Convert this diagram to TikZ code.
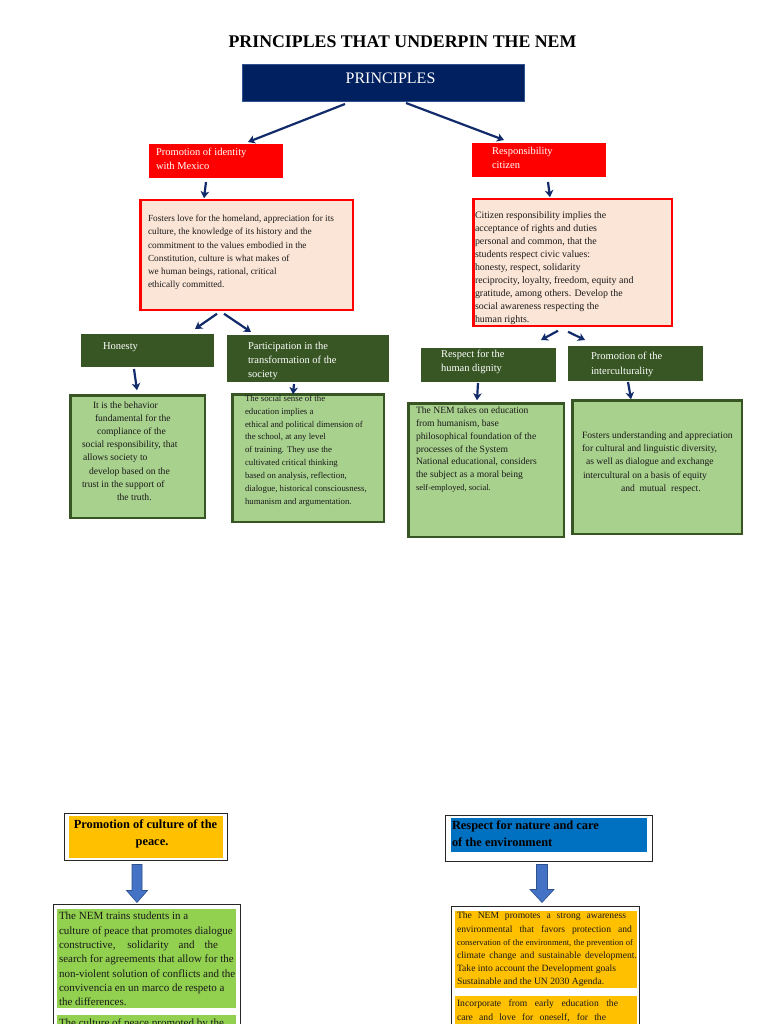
\documentclass[tikz,border=0pt]{standalone}
\usepackage{fontspec}
\setmainfont{Liberation Serif}
\usetikzlibrary{arrows.meta,calc}
\definecolor{navyfill}{HTML}{002060}
\definecolor{navyline}{HTML}{2F528F}
\definecolor{arrowblue}{HTML}{112B6B}
\definecolor{boxred}{HTML}{FF0000}
\definecolor{pinkfill}{HTML}{FBE5D6}
\definecolor{darkgreen}{HTML}{375623}
\definecolor{lightgreen}{HTML}{A9D18E}
\definecolor{limegreen}{HTML}{92D050}
\definecolor{amber}{HTML}{FFC000}
\definecolor{oceanblue}{HTML}{0070C0}
\definecolor{blockblue}{HTML}{4472C4}
\definecolor{blockedge}{HTML}{2F528F}
\definecolor{inkblack}{HTML}{1A1A1A}
\begin{document}
\begin{tikzpicture}[x=1pt,y=-1pt,
  shapebox/.style={anchor=north west,inner sep=0pt,outer sep=0pt,rectangle},
  navybox/.style={shapebox,fill=navyfill,draw=navyline,line width=0.6pt},
  redbox/.style={shapebox,fill=boxred},
  pinkbox/.style={shapebox,fill=pinkfill,draw=boxred,line width=2.5pt},
  dgbox/.style={shapebox,fill=darkgreen},
  lgbox/.style={shapebox,fill=lightgreen,draw=darkgreen,line width=2.5pt},
  outlinebox/.style={shapebox,fill=white,draw=black!85,line width=1pt},
  shadebox/.style={shapebox},
  txt/.style={anchor=north west,inner sep=0pt,outer sep=0pt,align=left,text=inkblack},
  wtxt/.style={txt,text=white},
  navylink/.style={draw=arrowblue,line width=2.2pt,-{Stealth[length=7pt,width=8.5pt,inset=2pt]}},
  blockarrow/.style={fill=blockblue,draw=blockedge,line width=0.6pt},
]
\useasboundingbox (0,0) rectangle (768,1024);
\fill[white] (0,0) rectangle (768,1024);

% ---------- title ----------
\node[txt,anchor=center,font=\fontsize{17.8pt}{20pt}\selectfont\bfseries,text=black] (title) at (402.5,42) {PRINCIPLES THAT UNDERPIN THE NEM};

% ---------- boxes ----------
\node[navybox,minimum width=282pt,minimum height=37pt] (pr) at (242,64) {};
\node[wtxt,anchor=center,font=\fontsize{16pt}{18pt}\selectfont] (prt) at (390.5,78) {PRINCIPLES};

\node[redbox,minimum width=134pt,minimum height=34pt] (id) at (149,144) {};
\node[redbox,minimum width=134pt,minimum height=34pt] (rc) at (472,143) {};
\node[wtxt,font=\fontsize{10.5pt}{14pt}\selectfont] (idt) at (156,148.5) {Promotion of identity\\with Mexico};
\node[wtxt,font=\fontsize{10.5pt}{13.5pt}\selectfont] (rct) at (492,147.5) {Responsibility\\citizen};

\node[pinkbox,minimum width=212.5pt,minimum height=109.5pt] (lp) at (140.25,200.25) {};
\node[pinkbox,minimum width=198.5pt,minimum height=126.5pt] (rp) at (473.25,199.25) {};
\node[txt,font=\fontsize{9.3pt}{13.2pt}\selectfont] (lpt) at (148,215.2) {Fosters love for the homeland, appreciation for its\\culture, the knowledge of its history and the\\commitment to the values embodied in the\\Constitution, culture is what makes of\\we human beings, rational, critical\\ethically committed.};
\node[txt,font=\fontsize{9.9pt}{13pt}\selectfont] (rpt) at (475,211.5) {Citizen responsibility implies the\\acceptance of rights and duties\\personal and common, that the\\students respect civic values:\\honesty, respect, solidarity\\reciprocity, loyalty, freedom, equity and\\gratitude, among others. Develop the\\social awareness respecting the\\human rights.};

\node[dgbox,minimum width=133pt,minimum height=33pt] (hon) at (81,334) {};
\node[dgbox,minimum width=162pt,minimum height=47pt] (par) at (227,335) {};
\node[dgbox,minimum width=135pt,minimum height=34pt] (res) at (421,348) {};
\node[dgbox,minimum width=135pt,minimum height=35pt] (int) at (568,346) {};
\node[wtxt,font=\fontsize{10.5pt}{14pt}\selectfont] (hont) at (103,342.3) {Honesty};
\node[wtxt,font=\fontsize{10.5pt}{14pt}\selectfont] (part) at (248,342.3) {Participation in the\\transformation of the\\society};
\node[wtxt,font=\fontsize{10.5pt}{14pt}\selectfont] (rest) at (441,350.3) {Respect for the\\human dignity};
\node[wtxt,font=\fontsize{10.5pt}{15pt}\selectfont] (intt) at (591,352.3) {Promotion of the\\interculturality};

\node[lgbox,minimum width=134.5pt,minimum height=122.5pt] (honb) at (70.25,395.25) {};
\node[lgbox,minimum width=151.5pt,minimum height=127.5pt] (parb) at (232.25,394.25) {};
\node[lgbox,minimum width=155.5pt,minimum height=133.5pt] (resb) at (408.25,403.25) {};
\node[lgbox,minimum width=169.5pt,minimum height=133.5pt] (intb) at (572.25,400.25) {};

\node[txt,font=\fontsize{9.6pt}{13.14pt}\selectfont] (honbt) at (82,401.7) {\hspace*{11pt}It is the behavior\\\hspace*{13pt}fundamental for the\\\hspace*{15pt}compliance of the\\social responsibility, that\\\hspace*{1pt}allows society to\\\hspace*{7pt}develop based on the\\trust in the support of\\\hspace*{35pt}the truth.};
\node[txt,font=\fontsize{8.8pt}{12.9pt}\selectfont] (parbt) at (245,395) {The social sense of the\\education implies a\\ethical and political dimension of\\the school, at any level\\of training. They use the\\cultivated critical thinking\\based on analysis, reflection,\\dialogue, historical consciousness,\\humanism and argumentation.};
\node[txt,font=\fontsize{9.6pt}{12.9pt}\selectfont] (resbt) at (416,406.7) {The NEM takes on education\\from humanism, base\\philosophical foundation of the\\processes of the System\\National educational, considers\\the subject as a moral being\\{\fontsize{8.5pt}{10pt}\selectfont self-employed, social.}};
\node[txt,font=\fontsize{9.6pt}{13.25pt}\selectfont] (intbt) at (582,431.7) {Fosters understanding and appreciation\\for cultural and linguistic diversity,\\\hspace*{4pt}as well as dialogue and exchange\\\hspace*{1pt}intercultural on a basis of equity\\\hspace*{39pt}and\ \ mutual\ \ respect.};

% ---------- connectors (top part) ----------
\draw[navylink] ($(pr.south)+(-38,3)$) -- ($(id.north)+(32,-2)$);
\draw[navylink] ($(pr.south)+(23,2)$) -- ($(rc.north)+(-35,-3)$);
\draw[navylink] ($(id.south)+(-10,4)$) -- ($(lp.north)+(-42.5,-2)$);
\draw[navylink] ($(rc.south)+(9,5)$) -- ($(rp.north)+(-22.5,-2)$);
\draw[navylink] ($(lp.south)+(-29.5,4)$) -- ($(hon.north)+(47.5,-5)$);
\draw[navylink] ($(lp.south)+(-22.5,4)$) -- ($(par.north)+(-57,-3)$);
\draw[navylink] ($(rp.south)+(-14.5,5)$) -- ($(res.north)+(52.5,-8)$);
\draw[navylink] ($(rp.south)+(-4.5,6)$) -- ($(int.north)+(-50.5,-6)$);
\draw[navylink] ($(hon.south)+(-13.5,2)$) -- ($(honb.north)+(-0.5,-5)$);
\draw[navylink] ($(par.south)+(-14,2)$) -- ($(parb.north)+(-15,0)$);
\draw[navylink] ($(res.south)+(-10.5,1)$) -- ($(resb.north)+(-9,-3)$);
\draw[navylink] ($(int.south)+(-7.5,1)$) -- ($(intb.north)+(-26,-1)$);

% ---------- bottom part ----------
\node[outlinebox,minimum width=163pt,minimum height=47pt] (pcT) at (64.5,813.5) {};
\node[shadebox,fill=amber,minimum width=154pt,minimum height=42pt] (pcTin) at (69,816) {};
\node[txt,align=center,anchor=north,font=\fontsize{12.4pt}{17pt}\selectfont\bfseries,text=black] (pcTt) at (145.5,819.3) {Promotion of culture of the\\\hspace*{13pt}peace.};

\node[outlinebox,minimum width=207pt,minimum height=46pt] (nT) at (445.5,815.5) {};
\node[shadebox,fill=oceanblue,minimum width=196pt,minimum height=34pt] (nTin) at (451,818) {};
\node[txt,font=\fontsize{12.4pt}{17pt}\selectfont\bfseries,text=black] (nTt) at (452,821.2) {Respect for nature and care\\of the environment};

\node[outlinebox,minimum width=187pt,minimum height=140pt] (pcB) at (53.5,904.5) {};
\node[shadebox,fill=limegreen,minimum width=179pt,minimum height=99pt] (pcB1) at (57,909) {};
\node[shadebox,fill=limegreen,minimum width=179pt,minimum height=30pt] (pcB2) at (57,1015) {};
\node[txt,font=\fontsize{11pt}{14.33pt}\selectfont] (pcBt) at (59,912.2) {The NEM trains students in a\\culture of peace that promotes dialogue\\\makebox[159pt][s]{constructive, solidarity and the}\\search for agreements that allow for the\\non-violent solution of conflicts and the\\convivencia en un marco de respeto a\\the differences.\\[6.3pt]The culture of peace promoted by the};

\node[outlinebox,minimum width=188pt,minimum height=140pt] (nB) at (451.5,906.5) {};
\node[shadebox,fill=amber,minimum width=182pt,minimum height=77pt] (nB1) at (455,911) {};
\node[shadebox,fill=amber,minimum width=182pt,minimum height=40pt] (nB2) at (455,996) {};
\node[txt,font=\fontsize{9.6pt}{13.2pt}\selectfont] (nBt) at (457,912.2) {\makebox[169pt][s]{The NEM promotes a strong awareness}\\\makebox[175pt][s]{environmental that favors protection and}\\{\fontsize{8.6pt}{10pt}\selectfont\makebox[176pt][s]{conservation of the environment, the prevention of}}\\\makebox[180pt][s]{climate change and sustainable development.}\\Take into account the Development goals\\Sustainable and the UN 2030 Agenda.\\[8pt]\makebox[161pt][s]{Incorporate from early education the}\\[1pt]\makebox[149pt][s]{care and love for oneself, for the}};

% block arrows
\coordinate (la1) at ($(pcT.south)+(-9,4)$);
\coordinate (la2) at ($(pcT.south |- pcB.north)+(-9,-2)$);
\filldraw[blockarrow] ($(la1)+(-5,0)$) -- ($(la1)+(5,0)$) -- ($(la2)+(5,-12)$) -- ($(la2)+(10.5,-12)$) -- (la2) -- ($(la2)+(-10.5,-12)$) -- ($(la2)+(-5,-12)$) -- cycle;
\coordinate (ra1) at ($(nT.south)+(-7,3)$);
\coordinate (ra2) at ($(nT.south |- nB.north)+(-7,-4)$);
\filldraw[blockarrow] ($(ra1)+(-5.5,0)$) -- ($(ra1)+(5.5,0)$) -- ($(ra2)+(5.5,-13)$) -- ($(ra2)+(12,-13)$) -- (ra2) -- ($(ra2)+(-12,-13)$) -- ($(ra2)+(-5.5,-13)$) -- cycle;
\end{tikzpicture}
\end{document}
